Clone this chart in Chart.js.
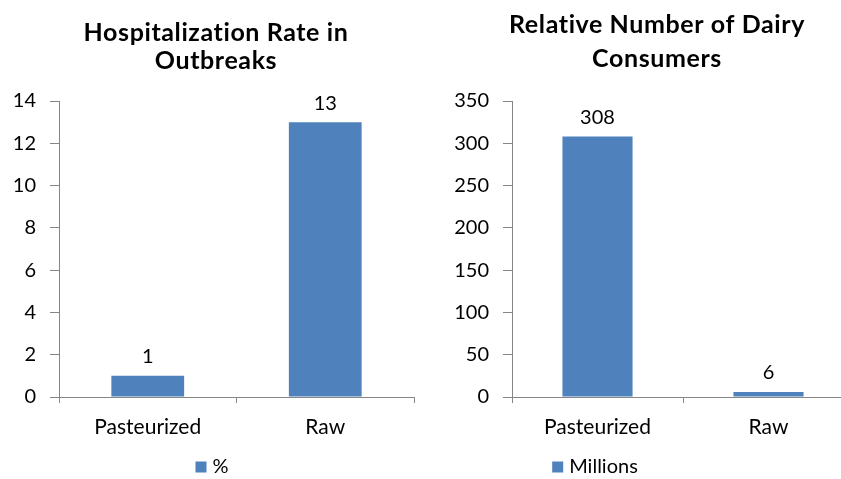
<!DOCTYPE html>
<html>
<head>
<meta charset="utf-8">
<script src="https://cdn.jsdelivr.net/npm/chart.js@4"></script>
<style>
  body { margin: 0; background: #fff; overflow: hidden; width: 841px; height: 479px; }
  .box { position: absolute; top: 0; height: 479px; }
  #b1 { left: 0; width: 420px; }
  #b2 { left: 420px; width: 435px; }
</style>
</head>
<body>
<div class="box" id="b1"><canvas id="c1"></canvas></div>
<div class="box" id="b2"><canvas id="c2"></canvas></div>
<script>
var categories = ['Pasteurized', 'Raw'];
var hospRate = [1, 13];
var consumers = [308, 6];
var hospTicks = [0, 2, 4, 6, 8, 10, 12, 14];
var consumerTicks = [0, 50, 100, 150, 200, 250, 300, 350];

var blue = '#4F81BD';
var axisGray = '#868686';
var fontFam = "Lato, 'Open Sans', sans-serif";

Chart.defaults.font.family = fontFam;
Chart.defaults.color = '#000';

// value labels above bars, plus the title and legend drawn where the original has them
var extras = {
    id: 'extras',
    afterDraw: function(chart, args, opts) {
        var ctx = chart.ctx;
        var ds = chart.data.datasets[0];
        var meta = chart.getDatasetMeta(0);
        ctx.save();
        ctx.fillStyle = '#000';
        ctx.textAlign = 'center';
        ctx.textBaseline = 'middle';

        ctx.font = '20px ' + fontFam;
        meta.data.forEach(function(bar, i) {
            ctx.fillText(ds.data[i], bar.x, bar.y - 19);
        });

        ctx.font = 'bold 25px ' + fontFam;
        ctx.letterSpacing = '0.6px';
        opts.title.forEach(function(line, i) {
            ctx.fillText(line, opts.titleX, opts.titleY[i]);
        });
        ctx.letterSpacing = '0px';

        // legend
        ctx.font = '20px ' + fontFam;
        var tw = ctx.measureText(ds.label).width;
        var box = 11, gap = 6;
        var x0 = opts.legendX - (box + gap + tw) / 2;
        ctx.fillStyle = ds.backgroundColor;
        ctx.fillRect(x0, opts.legendY - box / 2, box, box);
        ctx.fillStyle = '#000';
        ctx.textAlign = 'left';
        ctx.fillText(ds.label, x0 + box + gap, opts.legendY);
        ctx.restore();
    }
};

function build_chart(id, title, titleX, titleY, legendX, label, values, ticks, yWidth, padRight) {
    var ctx = document.getElementById(id).getContext('2d');
    var config = {
        type: 'bar',
        data: {
            labels: categories,
            datasets: [{
                label: label,
                data: values,
                backgroundColor: blue,
                barPercentage: 0.82,
                categoryPercentage: 0.5
            }]
        },
        options: {
            responsive: true,
            maintainAspectRatio: false,
            animation: false,
            layout: { padding: { left: 0, right: padRight, top: 101, bottom: 0 } },
            plugins: {
                title: { display: false },
                legend: { display: false },
                tooltip: { enabled: false },
                extras: { title: title, titleX: titleX, titleY: titleY, legendX: legendX, legendY: 467 }
            },
            scales: {
                x: {
                    grid: { offset: true, drawOnChartArea: false, drawTicks: true, tickLength: 6, color: axisGray },
                    border: { color: axisGray, width: 1 },
                    ticks: { font: { size: 21 }, color: '#000', padding: 12 },
                    afterFit: function(s) { s.height = 82; }
                },
                y: {
                    min: ticks[0],
                    max: ticks[ticks.length - 1],
                    afterBuildTicks: function(s) {
                        s.ticks = ticks.map(function(v) { return { value: v }; });
                    },
                    grid: { drawOnChartArea: false, drawTicks: true, tickLength: 9, color: axisGray },
                    border: { color: axisGray, width: 1 },
                    ticks: { font: { size: 20 }, color: '#000', padding: 14 },
                    afterFit: function(s) { s.width = yWidth; }
                }
            }
        },
        plugins: [extras]
    };
    return new Chart(ctx, config);
}

window.onload = function() {
    build_chart('c1', ['Hospitalization Rate in', 'Outbreaks'], 216, [33, 61], 212,
        '%', hospRate, hospTicks, 59, 6);
    build_chart('c2', ['Relative Number of Dairy', 'Consumers'], 237, [25, 59], 175,
        'Millions', consumers, consumerTicks, 92, 1);
};
</script>
</body>
</html>
